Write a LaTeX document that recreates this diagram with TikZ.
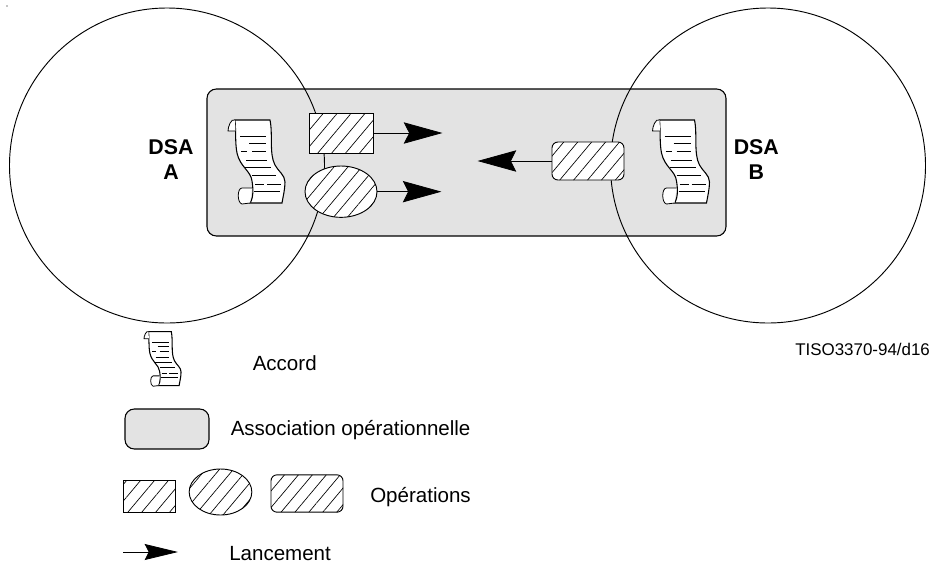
\documentclass[tikz,border=0pt]{standalone}
\usepackage{fontspec}
\setmainfont{Liberation Sans}
\usepackage{tikz}
\usetikzlibrary{positioning,shapes.geometric,patterns.meta,arrows.meta}
\definecolor{assocgray}{rgb}{0.89, 0.89, 0.89}
\tikzset{
	assocbox/.style={rectangle, rounded corners=7pt, fill=assocgray, draw=black, line width=.8pt, inner sep=0},
	dsacircle/.style={circle, draw=black, line width=.7pt, minimum size=236.25pt, inner sep=0},
	hatched/.style={preaction={fill=white}, pattern={Lines[angle=50,distance=8pt,line width=.5pt]}, draw=black, line width=.7pt, inner sep=0},
	oprect/.style={rectangle, hatched},
	opoval/.style={ellipse, hatched},
	opround/.style={rectangle, rounded corners=4.5pt, hatched},
	launch/.style={line width=.6pt, -{Stealth[length=29pt,width=16pt,inset=4pt]}},
	launchsmall/.style={line width=.6pt, -{Stealth[length=25pt,width=12pt,inset=3pt]}},
	dsatext/.style={font=\bfseries\fontsize{16}{18.75}\selectfont, align=center, inner sep=0},
	legendtext/.style={font=\fontsize{15.4}{18}\selectfont, anchor=base west, inner sep=0},
	accordscroll/.pic={
		\draw[fill=white, line width=.8pt] (7,1) -- (42,1) .. controls (45,15) and (41,35) .. (47,46) .. controls (50,52) and (57,56) .. (57,63) .. controls (57,70) and (55,78) .. (54,84) -- (22,84) .. controls (26,78) and (25,68) .. (24,62) .. controls (23,52) and (12,48) .. (9,34) .. controls (7,24) and (8,10) .. (7,1) -- cycle;
		\draw[fill=white, line width=.6pt] (7,1) .. controls (3,-1) and (0,8) .. (0,12) -- (7.5,12);
		\draw[fill=white, line width=.6pt] (24,69) -- (14,69) .. controls (9,69) and (9,84) .. (14,85) -- (22,84);
		\foreach \xa/\xb/\yy in {12/38/17, 21/38/24, 13/19/32, 24/38/32, 18/39/41, 17/43/48, 24/48/56, 27/36/65, 39/53/65, 26/52/72}
			\draw[line width=.6pt] (\xa,\yy) -- (\xb,\yy);
	}
}
\begin{document}
\begin{tikzpicture}[x=.75pt, y=-.75pt, on grid]
	\useasboundingbox (0,0) rectangle (932,565);
	\fill (7,6) circle (.7);
	\node [assocbox, minimum width=389.25pt, minimum height=110.25pt] (assoc) at (466.5,162.5) {};
	\node [dsacircle] (dsaA) at (167,165.5) {};
	\node [dsacircle] (dsaB) [right=450.75pt of dsaA] {};
	\node [dsatext] (nameA) at (171,160) {DSA\\A};
	\node [dsatext] (nameB) [right=439pt of nameA] {DSA\\B};
	\pic (scrollA) at (228,119) {accordscroll};
	\pic (scrollB) at (652.5,119) {accordscroll};
	\node [oprect, minimum width=48pt, minimum height=30pt] (opA) at (341,133) {};
	\node [opoval, minimum width=54pt, minimum height=38.5pt] (opC) [below=44pt of opA] {};
	\node [opround, minimum width=54pt, minimum height=28.5pt] (opB) at (588,161) {};
	\coordinate [right=51.75pt of opA.east] (tipA);
	\coordinate [right=48pt of opC.east] (tipC);
	\coordinate [left=55.5pt of opB.west] (tipB);
	\draw [launch] (opA.east) -- (tipA);
	\draw [launch] (opC.east) -- (tipC);
	\draw [launch] (opB.west) -- (tipB);
	\node [font=\fontsize{12.7}{15}\selectfont, anchor=base west, inner sep=0] (ref) at (795,355) {TISO3370-94/d16};
	\pic [scale=.65] (scrollkey) at (144,331) {accordscroll};
	\node [legendtext] (txtaccord) at (252.5,370) {Accord};
	\node [assocbox, minimum width=63pt, minimum height=30pt] (keyassoc) at (167,429) {};
	\node [legendtext] (txtassoc) at (230.5,435) {Association opérationnelle};
	\node [oprect, minimum width=39pt, minimum height=24pt] (keyrect) at (149,496) {};
	\node [opoval, minimum width=47pt, minimum height=34.5pt] (keyoval) at (220.5,492) {};
	\node [opround, minimum width=54pt, minimum height=28pt] (keyround) at (307,493.5) {};
	\node [legendtext] (txtop) at (370,502) {Opérations};
	\coordinate (keytail) at (123,552);
	\coordinate [right=41.25pt of keytail] (keytip);
	\draw [launchsmall] (keytail) -- (keytip);
	\node [legendtext] (txtlaunch) at (229,560.5) {Lancement};
\end{tikzpicture}
\end{document}
